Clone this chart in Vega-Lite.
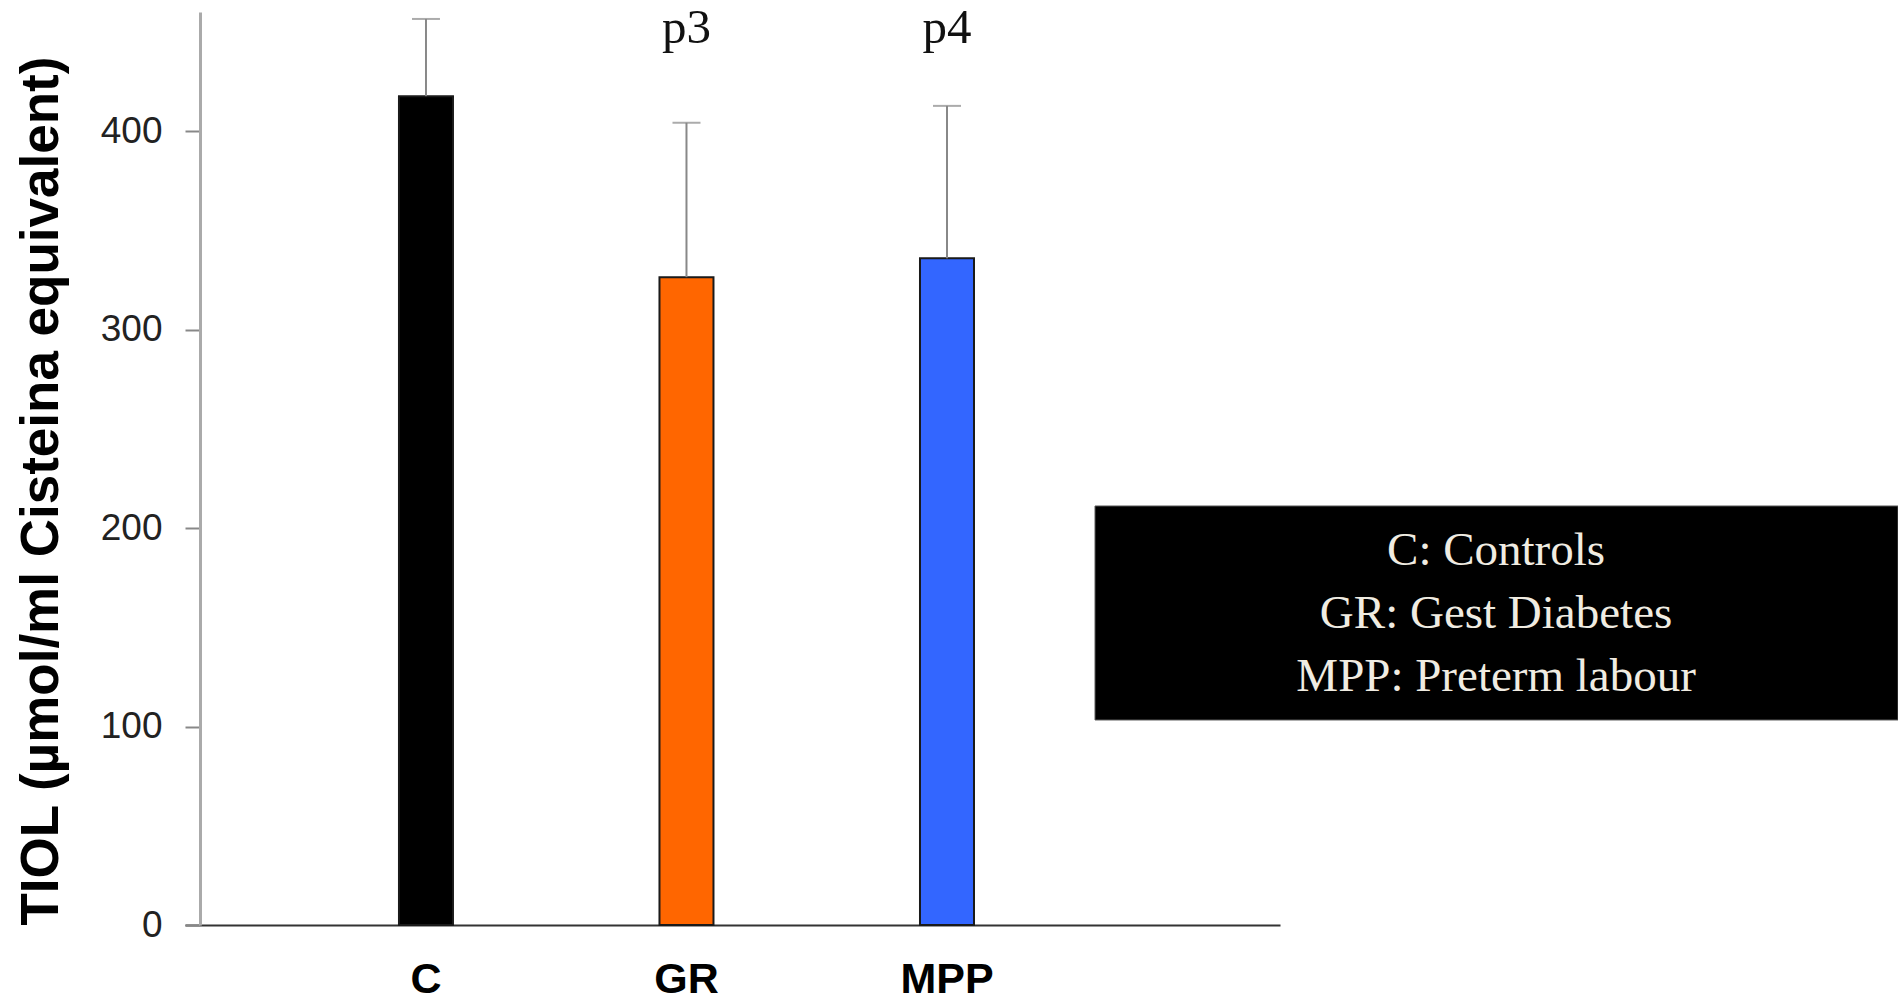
{
  "$schema": "https://vega.github.io/schema/vega-lite/v6.json",
  "width": 1698,
  "height": 913,
  "autosize": {"type": "none"},
  "padding": {"left": 200, "top": 12, "right": 0, "bottom": 75},
  "background": "white",
  "config": {"view": {"stroke": null}},
  "datasets": {
    "groups": [
      {"group": "C", "name": "Controls", "mean": 417.6, "upper": 456.5, "sig": ""},
      {"group": "GR", "name": "Gest Diabetes", "mean": 326.4, "upper": 404.2, "sig": "p3"},
      {"group": "MPP", "name": "Preterm labour", "mean": 335.9, "upper": 412.7, "sig": "p4"}
    ],
    "key": [{"text": "C: Controls\nGR: Gest Diabetes\nMPP: Preterm labour"}]
  },
  "resolve": {"scale": {"x": "independent"}},
  "layer": [
    {
      "data": {"name": "groups"},
      "encoding": {
        "x": {
          "field": "group",
          "type": "nominal",
          "sort": null,
          "scale": {"domain": ["C", "GR", "MPP"], "range": [-15, 1080], "paddingInner": 0.7927, "paddingOuter": 0.998, "align": 0.4115},
          "axis": {
            "title": null,
            "labelAngle": 0,
            "labelFont": "Liberation Sans",
            "labelFontWeight": "bold",
            "labelFontSize": 43,
            "labelColor": "black",
            "labelPadding": 33,
            "ticks": false,
            "domainColor": "#333",
            "domainWidth": 2
          }
        }
      },
      "layer": [
        {
          "mark": {"type": "bar", "stroke": "#1a1a1a", "strokeWidth": 2},
          "encoding": {
            "y": {
              "field": "mean",
              "type": "quantitative",
              "title": "TIOL (µmol/ml Cisteina equivalent)",
              "scale": {"domain": [0, 460], "nice": false},
              "axis": {
                "values": [0, 100, 200, 300, 400],
                "grid": false,
                "titleFont": "Liberation Sans",
                "titleFontWeight": "bold",
                "titleFontSize": 53,
                "titleColor": "black",
                "titleAngle": 270,
                "titleAlign": "left",
                "titleBaseline": "alphabetic",
                "titleX": -143,
                "titleY": 913,
                "labelFont": "Liberation Sans",
                "labelFontSize": 37,
                "labelColor": "#222",
                "labelPadding": 23,
                "tickSize": 15,
                "tickColor": "#888",
                "tickWidth": 2,
                "domainColor": "#aaa",
                "domainWidth": 3
              }
            },
            "color": {
              "field": "group",
              "type": "nominal",
              "scale": {"domain": ["C", "GR", "MPP"], "range": ["#000000", "#FF6600", "#3366FF"]},
              "legend": null
            }
          }
        },
        {
          "mark": {"type": "rule", "color": "#888", "strokeWidth": 2},
          "encoding": {
            "y": {"field": "mean", "type": "quantitative", "title": "TIOL (µmol/ml Cisteina equivalent)"},
            "y2": {"field": "upper"}
          }
        },
        {
          "mark": {"type": "tick", "color": "#888", "thickness": 2, "size": 28},
          "encoding": {
            "y": {"field": "upper", "type": "quantitative", "title": "TIOL (µmol/ml Cisteina equivalent)"}
          }
        },
        {
          "mark": {"type": "text", "font": "Liberation Serif", "fontSize": 49, "baseline": "alphabetic", "color": "#111"},
          "encoding": {
            "y": {"datum": 444.3, "type": "quantitative", "title": "TIOL (µmol/ml Cisteina equivalent)"},
            "text": {"field": "sig", "type": "nominal"}
          }
        }
      ]
    },
    {
      "data": {"name": "key"},
      "layer": [
        {
          "mark": {"type": "rect", "fill": "black", "stroke": "#555", "strokeWidth": 1},
          "encoding": {
            "x": {"datum": 0.5271, "type": "quantitative", "scale": {"domain": [0, 1], "nice": false, "zero": false}, "axis": null},
            "x2": {"datum": 1.0},
            "y": {"datum": 211.1, "type": "quantitative", "title": "TIOL (µmol/ml Cisteina equivalent)"},
            "y2": {"datum": 103.3}
          }
        },
        {
          "mark": {"type": "text", "font": "Liberation Serif", "fontSize": 47, "color": "#f0ece2", "lineBreak": "\n", "lineHeight": 63, "align": "center", "baseline": "middle"},
          "encoding": {
            "x": {"datum": 0.7633, "type": "quantitative", "axis": null},
            "y": {"datum": 188.4, "type": "quantitative", "title": "TIOL (µmol/ml Cisteina equivalent)"},
            "text": {"field": "text", "type": "nominal"}
          }
        }
      ]
    }
  ]
}
